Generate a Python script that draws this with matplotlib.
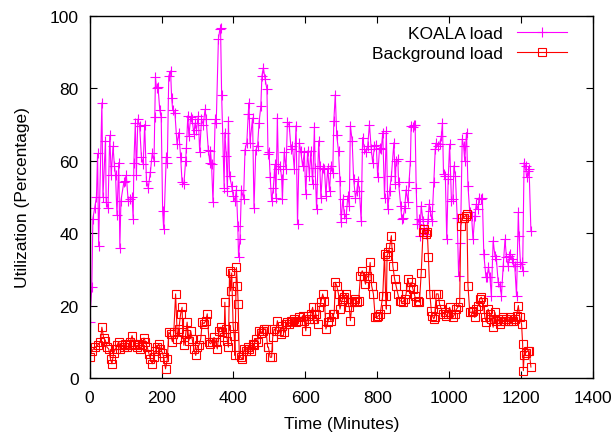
import matplotlib
matplotlib.use("Agg")
import matplotlib.pyplot as plt

plt.rcParams['font.family'] = ['Liberation Sans', 'DejaVu Sans']

# KOALA load (minutes, utilization %)
koala_t = [0, 6, 9, 14, 19, 22, 25, 34, 37, 44, 46, 51, 56, 60, 65, 69, 72, 76, 81, 84,
           87, 95, 99, 102, 107, 113, 118, 121, 123, 127, 130, 134, 139, 144, 149, 153, 158, 163, 169, 174,
           179, 181, 183, 186, 190, 195, 199, 203, 206, 213, 216, 220, 225, 228, 231, 237, 243, 248, 253, 257,
           262, 267, 269, 273, 276, 281, 285, 290, 293, 297, 302, 306, 311, 316, 321, 324, 330, 334, 336, 339,
           343, 349, 352, 358, 362, 364, 367, 374, 376, 380, 383, 386, 389, 395, 399, 404, 408, 412, 414, 418,
           422, 428, 432, 437, 441, 443, 446, 453, 457, 462, 467, 471, 476, 479, 483, 488, 493, 496, 499, 502,
           506, 511, 515, 518, 522, 525, 530, 534, 536, 541, 546, 550, 555, 560, 564, 569, 574, 578, 583, 587,
           592, 597, 601, 606, 611, 615, 620, 625, 627, 631, 637, 640, 643, 648, 653, 657, 662, 667, 671, 676,
           679, 683, 687, 692, 696, 699, 704, 708, 713, 718, 722, 725, 730, 734, 739, 743, 746, 750, 755, 759,
           764, 769, 773, 778, 783, 787, 792, 797, 801, 806, 811, 815, 820, 825, 829, 834, 839, 846, 850, 852,
           857, 859, 865, 868, 872, 876, 880, 885, 888, 892, 894, 899, 902, 905, 908, 911, 916, 918, 922, 927,
           931, 936, 941, 944, 947, 952, 957, 961, 964, 969, 973, 978, 981, 984, 989, 993, 997, 1001, 1006, 1010,
           1013, 1017, 1022, 1026, 1031, 1036, 1040, 1043, 1048, 1052, 1057, 1062, 1066, 1071, 1075, 1080, 1083, 1087, 1092, 1096,
           1102, 1105, 1109, 1113, 1117, 1122, 1127, 1131, 1136, 1141, 1145, 1150, 1155, 1159, 1164, 1167, 1170, 1174, 1178, 1182,
           1187, 1192, 1194, 1198, 1201, 1204, 1208, 1212, 1215, 1220, 1222, 1227]
koala_u = [15.4, 25, 44, 47, 50, 62, 36.5, 76, 50, 65.5, 48.5, 47, 67, 56, 64, 58.5, 56, 45, 59.5, 36,
           49, 54, 54.5, 56, 49, 49.5, 50, 44, 59.5, 70.5, 56, 71.5, 69.5, 61, 59, 70, 54.5, 52.5, 57, 62,
           60, 72, 83, 80, 80.5, 74, 72, 46, 41, 61, 59.5, 83.4, 84.8, 77.4, 74, 73.3, 64.6, 67.8, 61, 54,
           53.5, 60, 63.6, 72.4, 66.9, 72, 71.4, 67.3, 70.4, 68.6, 72.4, 62.3, 71.4, 70, 74.2, 71.4, 63, 59.5, 62.7, 59,
           48.5, 71.4, 70.4, 93.5, 96.3, 96.7, 78.3, 52.6, 67.8, 61.3, 51.7, 71, 55.8, 53, 50.3, 49, 52, 42, 33.3, 38.3,
           52, 49.5, 63, 65, 72.8, 76, 65, 71.8, 47, 63, 64, 70.5, 75, 83.4, 85.7, 82.5, 79.7, 61.8, 62.3, 55.4,
           49, 52.6, 59, 49.8, 71.9, 57.7, 58.6, 55, 49.4, 62.3, 57.7, 70.6, 69.7, 63.2, 64, 57.7, 69.7, 42.5, 65, 62.7,
           58.6, 62.3, 50.8, 62.7, 55.8, 62.7, 53.5, 69.2, 58, 46.6, 65.5, 58.6, 49.8, 58, 57.7, 50.3, 58, 51.7, 58.6, 56.7,
           71, 78.3, 67, 62.7, 54.4, 43, 49.4, 45.2, 44.3, 50.3, 47.5, 69.7, 65.5, 55, 49.8, 51.7, 54.4, 51.7, 43.4, 66.4,
           63.2, 62.3, 64, 70, 63.2, 59.5, 64, 64.4, 55.4, 63.6, 63.2, 67.8, 49.8, 68.2, 46.6, 51.7, 55.8, 65, 53.5, 60,
           60.4, 54, 47.5, 43.9, 44.3, 47, 52, 48.5, 54, 60, 69.6, 69.2, 70, 70, 52.6, 42.5, 43.9, 39.3, 47.5, 43.4,
           41, 39.7, 43.9, 48, 46.2, 43.4, 54, 63.2, 65, 64, 64.6, 66.8, 70.5, 56.3, 55.8, 38.3, 54.9, 64.6, 49, 49.4,
           58.6, 55.8, 44.3, 28.2, 37.4, 66, 64, 60, 67.8, 53, 45.7, 44.8, 38.3, 44.8, 48, 46.6, 49.8, 49.4, 49.8, 34.2,
           27.8, 27.8, 30.5, 27.8, 22.7, 37.9, 33.7, 32.8, 26.4, 25.5, 22.7, 31, 38.3, 33.3, 31, 33.7, 34.2, 32.8, 31.9, 31,
           22.7, 45.7, 39.3, 31.4, 31.9, 29.6, 59.5, 58.6, 55.4, 57.2, 57.7, 40.6]

# Background load (minutes, utilization %)
bg_t = [0, 6, 16, 22, 30, 34, 39, 44, 48, 53, 58, 62, 67, 72, 76, 81, 85, 90, 95, 99,
        104, 109, 113, 118, 123, 127, 132, 137, 141, 146, 151, 155, 160, 165, 169, 174, 179, 183, 188, 192,
        197, 202, 206, 211, 216, 220, 225, 230, 234, 239, 244, 248, 253, 257, 259, 262, 267, 271, 276, 281,
        285, 290, 295, 299, 304, 309, 313, 318, 323, 327, 332, 336, 341, 346, 350, 355, 360, 364, 369, 374,
        376, 378, 383, 386, 389, 392, 395, 399, 402, 404, 408, 411, 413, 416, 420, 425, 430, 434, 439, 443,
        448, 453, 457, 462, 467, 471, 476, 481, 485, 490, 495, 497, 502, 506, 509, 513, 518, 522, 527, 532,
        536, 541, 546, 550, 555, 560, 564, 569, 574, 578, 583, 587, 592, 597, 601, 606, 611, 615, 620, 625,
        629, 634, 639, 643, 648, 653, 657, 662, 666, 671, 676, 680, 683, 687, 692, 696, 701, 704, 708, 713,
        718, 722, 725, 730, 734, 739, 744, 748, 753, 758, 762, 767, 771, 776, 780, 784, 789, 794, 799, 803,
        808, 815, 820, 823, 825, 827, 831, 834, 839, 843, 848, 852, 857, 862, 866, 871, 876, 880, 885, 890,
        894, 899, 904, 908, 913, 917, 922, 927, 931, 934, 939, 942, 946, 950, 953, 957, 959, 964, 969, 973,
        978, 983, 987, 992, 996, 1001, 1006, 1010, 1015, 1020, 1024, 1029, 1032, 1036, 1040, 1046, 1049, 1052, 1057, 1062,
        1066, 1071, 1075, 1080, 1085, 1089, 1094, 1099, 1103, 1108, 1113, 1117, 1122, 1127, 1131, 1136, 1141, 1145, 1150, 1155,
        1159, 1164, 1168, 1173, 1178, 1182, 1187, 1192, 1196, 1201, 1204, 1206, 1208, 1213, 1218, 1222, 1227]
bg_u = [5.7, 7.5, 8.5, 9, 10, 14, 11, 10.3, 8.5, 8, 5.2, 3.9, 7, 8, 9, 10, 8, 9, 8.5, 9.4,
        8.5, 9, 10, 11.7, 9.4, 9, 8.5, 9.4, 8, 9, 11, 10, 8.5, 6.6, 5.2, 3.9, 5.7, 7.5, 8.5, 9.4,
        8, 7, 5.7, 2.5, 5.2, 12.6, 12, 10, 12.6, 23.2, 10.8, 13.5, 17.7, 19.5, 12.6, 9, 12, 15.4, 10.3, 13,
        10.8, 8, 6.2, 8.5, 9, 10.8, 15.4, 15, 15.8, 17.7, 10, 9.4, 10, 11.2, 10, 8, 13, 14, 12.6, 11.2,
        20.9, 13.5, 10.3, 8.5, 29.6, 24, 29, 14.4, 11.7, 6.2, 30.5, 25.5, 20.4, 6.2, 5.7, 5.2, 8, 7.5, 8.5, 8,
        7.5, 9.4, 9, 10.8, 9.8, 13, 12.4, 13, 13.5, 13.5, 8.5, 8.5, 5.7, 5.7, 11.2, 13.5, 13, 15.8, 13, 12,
        14.4, 12.6, 15, 15.4, 15, 15.8, 15.8, 16.3, 15.4, 15.8, 16.7, 15.8, 17.2, 15.8, 13, 17.2, 16.3, 17.7, 19.5, 16.3,
        17.7, 15, 19.5, 20.9, 23.2, 21.3, 13.5, 15.4, 16.7, 15.8, 17.7, 17.7, 26.4, 25.5, 23.2, 19, 21.3, 21.8, 22.3, 23.2,
        20.9, 19.5, 15.8, 20.9, 21.3, 21.8, 20.9, 21.3, 28.2, 29.6, 28.2, 25.9, 28.2, 27.7, 31.9, 25.5, 23.2, 16.7, 16.7, 17.2,
        17.7, 22.7, 34.2, 22.7, 19, 33.8, 34.7, 36.1, 39.3, 31, 27.3, 25.5, 23.2, 21.3, 21.3, 20.9, 21.8, 23.2, 27.3, 25,
        26.4, 24.6, 22.7, 20.9, 21.3, 20.9, 29, 40.2, 41.1, 39.7, 40.2, 33.3, 23.2, 18.6, 17.2, 16.3, 16.7, 23.2, 23.2, 20.4,
        19, 17.7, 18.2, 17.2, 17.7, 19.5, 17.7, 16.7, 17.7, 19, 19.5, 20.9, 42, 44.3, 44.3, 44.8, 45.2, 25.5, 18.1, 18.1,
        18.6, 16.7, 19, 20, 21.8, 22.3, 20.9, 16.7, 15.4, 19, 17.7, 16.3, 14, 18.1, 15.8, 16.3, 14.9, 15.8, 16.7, 15.8,
        16.3, 15.8, 16.7, 15.8, 15.8, 16.3, 17.2, 20, 16.7, 14.9, 9.4, 2, 6.2, 7, 7.5, 7.5, 3]

fig = plt.figure(figsize=(6.14, 4.35), dpi=100)
ax = fig.add_axes([0.146, 0.129, 0.820, 0.832])

ax.plot(koala_t, koala_u, color="#ff00ff", lw=0.8, marker="+", ms=7, mew=0.8,
        label="KOALA load")
ax.plot(bg_t, bg_u, color="#ff0000", lw=0.8, marker="s", ms=5.5, mew=0.8,
        mfc="none", label="Background load")

ax.set_xlim(0, 1400)
ax.set_ylim(0, 100)
ax.set_xticks(range(0, 1401, 200))
ax.set_yticks(range(0, 101, 20))
ax.tick_params(direction="in", top=True, right=True, labelsize=12.5, length=5)
ax.tick_params(axis="x", pad=9)
ax.tick_params(axis="y", pad=8)
for s in ax.spines.values():
    s.set_linewidth(1.0)

ax.set_xlabel("Time (Minutes)", fontsize=12.5, labelpad=8)
ax.set_ylabel("Utilization (Percentage)", fontsize=12.5, labelpad=14)

ax.legend(loc="upper right", bbox_to_anchor=(0.972, 1.005), frameon=False,
          markerfirst=False, fontsize=12.5, handlelength=2.9,
          labelspacing=0.25, borderaxespad=0.3)

fig.savefig("out.png", dpi=100)
